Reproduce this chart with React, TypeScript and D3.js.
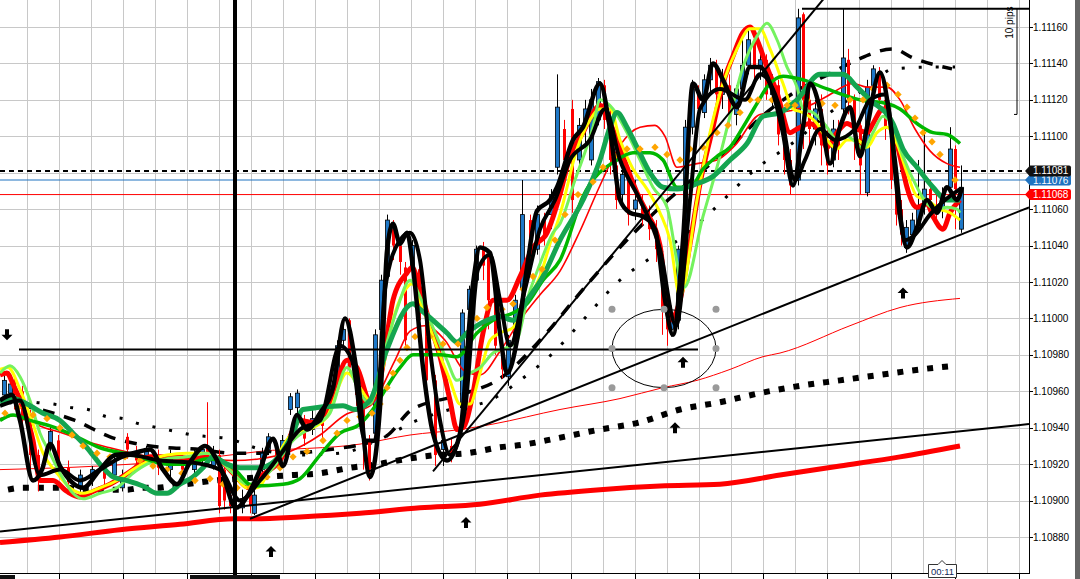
import React from "react";
import * as d3 from "d3";

// ---------- DATA (prices stored in pipettes: 110955 = 1.10955; time in minutes) ----------
const priceTickLabels = ["1.11160","1.11140","1.11120","1.11100","1.11080","1.11060","1.11040","1.11020","1.11000","1.10980","1.10960","1.10940","1.10920","1.10900","1.10880"];

// [time, open, high, low, close]
const candles: [number, number, number, number, number][] = [
[1,110958,110969,110955,110966],[2.5,110959,110967,110956,110964],[3.5,110966,110967,110950,110958],[5.5,110960,110963,110938,110944],
[7.5,110947,110950,110917,110925],[9.5,110925,110928,110905,110914],[12.5,110930,110941,110926,110938],[14.5,110933,110936,110914,110919],
[17,110918,110922,110905,110910],[20,110908,110917,110904,110914],[23,110912,110919,110908,110917],[26,110918,110921,110908,110912],
[28.5,110914,110926,110911,110922],[30.5,110907,110917,110905,110913],[31.75,110935,110937,110923,110928],[34,110926,110930,110919,110922],
[36.5,110922,110930,110919,110928],[39.5,110925,110928,110914,110918],[42.5,110917,110928,110912,110923],[45.5,110921,110925,110911,110917],
[48.5,110917,110928,110914,110923],[50.5,110922,110930,110919,110928],[51.75,110930,110954,110919,110922],[53.25,110919,110930,110917,110925],
[54.75,110925,110928,110893,110897],[56,110917,110919,110895,110900],[57.5,110903,110906,110893,110897],[60.5,110896,110906,110893,110901],
[62.5,110906,110908,110893,110897],[63.5,110893,110906,110892,110903],[65.5,110917,110929,110912,110926],[67,110928,110937,110925,110935],
[69,110930,110933,110918,110922],[70.5,110925,110936,110922,110933],[72.5,110950,110959,110947,110957],[74.25,110951,110961,110948,110959],
[76,110944,110947,110930,110934],[78,110939,110950,110936,110945],[80.5,110947,110950,110933,110941],[82.5,110955,110969,110952,110963],
[84.25,110969,110988,110966,110985],[85.75,110988,110999,110985,110994],[87.25,110999,111000,110969,110973],[89,110974,110977,110952,110958],
[90.75,110958,110961,110917,110933],[92.25,110933,110936,110911,110917],[93.75,110937,110994,110934,110991],[95.25,110994,111024,110991,111021],
[96.75,111023,111057,111021,111054],[98.25,111049,111054,111032,111040],[100,111040,111044,111024,111031],[101.25,111028,111031,110985,110988],
[103,111029,111043,111024,111040],[104.75,111027,111031,110994,110999],[106.5,110999,111002,110961,110966],[108.75,110966,110969,110919,110925],
[110.75,110928,110936,110919,110933],[112.75,110930,110934,110921,110925],[115.5,110951,111005,110947,111003],[117.25,111005,111018,111000,111016],
[119,111021,111040,111017,111038],[120.75,111038,111042,111021,111029],[122,111035,111038,110994,111010],[123.75,111010,111013,110980,110985],
[125.5,110983,110988,110967,110972],[127,110968,110991,110963,110988],[128.75,110988,111013,110985,111010],[130.5,111016,111076,111013,111057],
[132.5,111054,111057,111024,111035],[134.25,111038,111062,111035,111057],[136,111054,111058,111040,111046],[137.75,111057,111071,111049,111068],
[139.25,111083,111134,111079,111116],[141,111104,111109,111073,111087],[143,111115,111120,111058,111065],[144.75,111087,111110,111083,111106],
[146.25,111106,111120,111093,111115],[147.75,111087,111126,111084,111120],[149.5,111109,111132,111106,111130],[151,111128,111131,111104,111109],
[152.5,111109,111115,111079,111087],[154,111084,111090,111060,111065],[155.5,111068,111087,111062,111079],[157,111076,111082,111051,111057],
[158.75,111060,111076,111054,111065],[160.5,111062,111068,111051,111055],[162.25,111057,111062,111043,111049],[164,111049,111054,111031,111038],
[165.5,111035,111038,110991,111005],[166.75,111010,111016,110985,110994],[167.75,110994,111007,110990,111001],[169.5,110999,111040,110994,111038],
[171.25,111038,111109,111035,111105],[173,111105,111131,111101,111126],[174.5,111123,111128,111109,111115],[176,111113,111134,111110,111131],
[177.5,111131,111143,111123,111139],[179,111138,111142,111117,111123],[180.5,111123,111137,111115,111131],[182.25,111128,111134,111106,111112],
[184,111112,111128,111106,111126],[185.5,111126,111153,111120,111139],[187,111139,111159,111134,111153],[188.5,111153,111160,111131,111137],
[190,111137,111148,111131,111142],[191.5,111142,111145,111120,111123],[193,111123,111134,111115,111128],[194.5,111128,111131,111095,111101],
[196,111101,111106,111079,111087],[197.5,111087,111093,111068,111073],[199.5,111076,111170,111073,111165],[200.75,111167,111168,111093,111120],
[202.25,111120,111126,111095,111104],[203.75,111104,111120,111095,111115],[205.25,111115,111123,111084,111095],[206.75,111095,111104,111079,111084],
[208.25,111087,111109,111083,111104],[209.5,111104,111109,111087,111093],[210.75,111115,111170,111109,111143],[212,111142,111148,111112,111120],
[213.5,111120,111123,111087,111106],[215,111106,111112,111068,111084],[216.75,111069,111131,111067,111127],[218.25,111128,111139,111123,111137],
[219.75,111134,111138,111115,111120],[221.25,111120,111126,111098,111104],[222.75,111104,111109,111071,111076],[224,111076,111079,111051,111057],
[225.25,111060,111065,111040,111046],[226.5,111039,111054,111036,111050],[228,111046,111058,111043,111054],[229.5,111051,111087,111047,111060],
[231,111062,111104,111057,111071],[232.5,111071,111076,111057,111065],[234,111062,111068,111051,111057],[235.5,111060,111072,111055,111068],
[237.5,111072,111105,111071,111093],[238.75,111093,111095,111049,111071],[240.25,111049,111084,111047,111072]
];

const black1: [number, number][] = [[0,110955],[3,110958],[5,110944],[8.25,110911],[10.5,110917],[12.5,110931],[15,110919],[18,110910],[20.75,110907],[25,110917],[28.75,110925],[33.25,110926],[37.5,110928],[40.75,110917],[44.25,110909],[47.5,110921],[51.25,110930],[55,110919],[59,110896],[62,110903],[65,110917],[68.25,110934],[70.75,110919],[74.25,110947],[76.75,110939],[80,110948],[83.25,110962],[86.25,111000],[89.25,110970],[92.5,110913],[95,110951],[96.75,111037],[98.25,111052],[100,111041],[101.75,111047],[103.25,111028],[105.75,110973],[108.25,110937],[111.75,110922],[115,110937],[118.25,111019],[120,111039],[122.5,111036],[125,110992],[126.75,110970],[129.25,110988],[131.75,111028],[134.25,111059],[137.5,111065],[139.25,111072],[143.25,111098],[145.75,111105],[150,111129],[152.5,111104],[155,111065],[157.5,111058],[160.75,111056],[163.75,111049],[166.25,111010],[168.25,110991],[170.75,111043],[173.25,111129],[175.75,111120],[178.25,111140],[180.75,111131],[184.25,111116],[187.5,111138],[190,111138],[192.5,111129],[195.75,111102],[198.25,111073],[200.75,111105],[202.5,111129],[205,111115],[207.5,111085],[210,111105],[212.5,111116],[215,111089],[216.75,111105],[220,111135],[222.5,111109],[225,111056],[226.75,111039],[229.25,111050],[231.75,111065],[234.25,111058],[236.75,111072],[239.25,111065],[240.5,111072]];

const black2: [number, number][] = [[0,110952],[5,110955],[10,110914],[15,110917],[20,110911],[25,110917],[32.5,110925],[40,110922],[47.5,110921],[55,110917],[60,110900],[65,110911],[70,110925],[75,110939],[80,110944],[85,110985],[88,110977],[91.25,110933],[93.75,110933],[96.25,111016],[100,111043],[102.5,111047],[105,111032],[107.5,110983],[110,110944],[112.5,110925],[116.25,110950],[119.5,111027],[122.5,111035],[125,111010],[127.5,110985],[131.25,111016],[135,111049],[138.75,111065],[142.5,111087],[147.5,111098],[151.25,111115],[155,111087],[160,111065],[165,111038],[169,110996],[172.5,111065],[175,111115],[180,111126],[186.25,111120],[190,111134],[195,111115],[198.75,111076],[201.25,111087],[205,111104],[208.75,111098],[213.75,111104],[217.5,111120],[221.25,111123],[223.75,111087],[226.25,111043],[228.75,111046],[232.5,111057],[236.25,111065],[240,111071]];

const redFast: [number, number][] = [[0,110969],[1.75,110970],[3.25,110964],[5.75,110951],[8.25,110933],[10,110911],[13.25,110911],[16.75,110905],[20,110902],[23.25,110905],[27.5,110909],[33.25,110917],[37.5,110924],[43.25,110924],[48.25,110923],[51.75,110924],[55,110922],[58.25,110915],[62.5,110907],[65,110913],[70,110922],[75,110944],[78.25,110943],[81.75,110948],[86.75,110977],[89.25,110973],[92.5,110955],[95,110966],[98.25,111010],[101.75,111025],[103,111028],[105,111016],[107.5,110997],[110,110979],[112.5,110955],[114.25,110939],[115.75,110940],[118.25,110959],[120.75,110992],[123.25,111010],[126.75,111010],[130,111023],[133.25,111039],[136.75,111047],[140,111068],[142.5,111089],[145.75,111102],[148.25,111113],[150,111117],[151.75,111111],[154.25,111098],[156.75,111083],[159.25,111069],[161.75,111058],[165,111040],[167.5,110999],[170,111010],[172.5,111041],[175,111074],[178.25,111105],[180.75,111129],[183.25,111144],[185.75,111157],[187.5,111160],[189.25,111153],[191.75,111138],[194.25,111124],[197.5,111102],[199.25,111104],[202.5,111107],[205,111102],[206.75,111094],[209.25,111102],[211.75,111107],[214.25,111104],[216.75,111102],[218.25,111107],[220.75,111115],[223.25,111105],[225,111089],[226.75,111072],[229.25,111061],[231.75,111063],[233.25,111056],[235.75,111049],[237.5,111058],[240,111065]];

const yellowMA: [number, number][] = [[0,110972],[2,110973],[5,110961],[8.25,110942],[10.75,110926],[14.25,110915],[17.5,110907],[20.75,110904],[25,110907],[29.25,110911],[33.25,110917],[37.5,110922],[41.75,110925],[46.75,110926],[51.75,110926],[55,110922],[58.25,110915],[61.75,110907],[64.25,110907],[67.5,110917],[73.25,110937],[78.25,110940],[81.75,110946],[86.75,110970],[90,110962],[92.5,110955],[95.75,110973],[98.25,110999],[101.75,111017],[103,111019],[105.75,111005],[109.25,110984],[112.5,110966],[115,110953],[117.5,110953],[120,110970],[122.5,110988],[125,110992],[128.25,110995],[131.75,111010],[135,111023],[137.5,111041],[140,111057],[144.25,111093],[147.5,111109],[150,111115],[152.5,111115],[155,111098],[158.25,111082],[161.75,111071],[165,111058],[167.5,111043],[170,111012],[174.25,111065],[177.5,111102],[180.75,111129],[184.25,111148],[187.5,111159],[190,111159],[192.5,111148],[195.75,111129],[198.25,111115],[200.75,111113],[204.25,111107],[206.75,111098],[209.25,111093],[211.75,111098],[214.25,111098],[216.75,111094],[219.25,111102],[221.75,111105],[224.25,111096],[226.75,111080],[229.25,111067],[231.75,111065],[235,111060],[237.5,111058],[240,111054]];

const limeMA: [number, number][] = [[0,110970],[2.5,110974],[5,110968],[7.5,110955],[10,110937],[12.5,110926],[15,110915],[18.25,110904],[20.75,110901],[25,110904],[29.25,110907],[33.25,110915],[36.75,110920],[41.75,110923],[46.75,110924],[51.75,110926],[55,110922],[58.25,110915],[61.75,110909],[65,110911],[68.25,110918],[73.25,110933],[79.25,110942],[82.5,110948],[86.75,110973],[90,110959],[92.5,110953],[95.75,110979],[99.25,111005],[102.5,111021],[105,111012],[108.25,110995],[111.75,110977],[114.25,110966],[117.5,110970],[120,110973],[123.25,110981],[126.75,110984],[129.25,110988],[131.75,111010],[135,111030],[138.25,111047],[140,111052],[143.75,111076],[148.25,111105],[150,111120],[153.25,111115],[156.75,111102],[160,111087],[163.25,111072],[166.75,111061],[171,111017],[175.75,111056],[179.25,111083],[182.5,111111],[185.75,111138],[189.25,111155],[191.75,111162],[194.25,111153],[196.75,111138],[199.25,111127],[200.75,111115],[203.25,111113],[206.75,111105],[209.25,111098],[211.75,111100],[214.25,111096],[215.75,111093],[218.25,111102],[220.75,111111],[223.25,111105],[225.75,111089],[229.25,111072],[231.75,111063],[234.25,111060],[236.75,111061],[239.25,111060],[240,111058]];

const greenMA: [number, number][] = [[0,110944],[3.25,110947],[7.5,110944],[12.5,110941],[18.25,110936],[25,110929],[33.25,110925],[41.75,110920],[46.75,110920],[51.75,110923],[58.25,110918],[63.25,110908],[70.75,110909],[75,110912],[80,110925],[85,110937],[90,110942],[92.5,110948],[100,110973],[103.25,110980],[110,110980],[114.25,110979],[119.25,110992],[123.25,110999],[128.25,111003],[131.75,111008],[135.75,111021],[140,111032],[145.75,111067],[154.25,111087],[158.25,111091],[162.5,111091],[165.75,111087],[169.25,111072],[172.5,111072],[175.75,111082],[179.25,111089],[182.5,111094],[185.75,111105],[189.25,111118],[191.75,111127],[195.75,111133],[200.75,111131],[206.75,111126],[215,111120],[221.75,111118],[225,111115],[229.25,111107],[233.25,111102],[236.75,111101],[240,111096]];

const darkGreenMA: [number, number][] = [[0,110954],[3.25,110956],[6.75,110953],[10.75,110948],[15,110944],[18.25,110937],[21.75,110929],[25,110920],[28.25,110913],[31.75,110911],[35.75,110908],[39.25,110904],[41.75,110904],[45,110909],[48.25,110913],[50.75,110918],[53.25,110924],[56.75,110920],[60,110918],[65,110918],[70,110925],[73.25,110937],[75.75,110950],[85.75,110952],[88.75,110950],[92.5,110955],[96.75,110983],[103.25,111008],[105,111005],[111.75,110992],[114.25,110987],[116.75,110992],[121.75,110999],[125,111001],[128.25,110999],[131.75,111010],[135.75,111023],[140,111043],[145.75,111065],[150,111087],[152.5,111105],[154.25,111113],[156.75,111105],[159.25,111094],[162.5,111080],[165.75,111072],[169.25,111071],[174.25,111074],[178.25,111078],[182.5,111087],[186.75,111096],[190.75,111111],[195,111113],[199.25,111120],[205,111134],[210.75,111134],[214.25,111127],[217.5,111120],[223.25,111107],[225.75,111093],[229.25,111083],[233.25,111072],[236.75,111065],[240,111065]];

const redThinMA: [number, number][] = [[0,110945],[5,110947],[10,110941],[15.75,110937],[20.75,110933],[27.5,110929],[35,110925],[42.5,110923],[50,110923],[58.5,110922],[65,110923],[72.5,110927],[80,110936],[86.25,110947],[92.5,110952],[98.75,110977],[102.5,110993],[106.25,110996],[111.25,110988],[116.25,110971],[120,110969],[125,110982],[130,110999],[135,111013],[140,111026],[145,111048],[150,111073],[155,111095],[160,111105],[163.75,111106],[166.25,111100],[169.25,111083],[174.25,111085],[179.25,111087],[183.75,111095],[190,111112],[197.5,111114],[202.5,111117],[206.75,111122],[213.25,111129],[216.75,111127],[221.75,111127],[225,111120],[228.75,111104],[232.5,111092],[236.75,111085],[240,111083]];

const redSlowThin: [number, number][] = [[0,110917],[25,110919],[50,110923],[65,110927],[90,110931],[102.5,110936],[115,110939],[123.25,110942],[140,110950],[155,110956],[165.75,110962],[174.25,110966],[182.5,110972],[190.75,110979],[195,110981],[212.5,110996],[225,111006],[240,111011]];

const redSlowThick: [number, number][] = [[0,110877],[15,110880],[30,110884],[45,110887],[58.5,110890],[62.5,110890],[75,110891],[90,110893],[105,110896],[120,110898],[135,110903],[150,110906],[165,110908],[180,110909],[195,110914],[210,110919],[225,110924],[240,110930]];

const dotSmall: [number, number][] = [[5,110956],[8.75,110954],[13.25,110953],[18,110951],[22,110950],[26.75,110946],[30.75,110945],[35,110942],[39.5,110940],[43.75,110938],[48.25,110936],[52.5,110935],[57,110934],[61.25,110931],[63.75,110929],[75,110925],[85,110926],[96.25,110935],[103.25,110943],[112.5,110950],[122.5,110955],[130,110966],[138.25,110981],[145.75,110999],[155,111021],[162.5,111033],[172,111047],[177.5,111058],[189.5,111083],[198,111096],[207.5,111113],[217.5,111128],[223.25,111137],[232.5,111138],[238.75,111138]];

const dashMA: [number, number][] = [[0,110955],[10,110950],[18.75,110944],[27.5,110935],[37.5,110930],[50,110928],[58.5,110926],[70,110926],[82.5,110928],[96.25,110935],[103,110950],[115,110958],[125,110967],[135,110988],[145,111014],[155,111039],[165,111061],[175,111080],[182.5,111094],[190,111110],[200,111126],[208,111135],[214.25,111142],[223.25,111148],[228.25,111143],[238,111137]];

const squareMA: [number, number][] = [[2,110906],[5.5,110907],[9.25,110907],[13,110907],[16.75,110907],[20.5,110906],[24.25,110906],[28,110906],[31.75,110906],[35.5,110907],[39.25,110907],[43,110908],[46.75,110909],[50,110910],[53.75,110911],[60,110912],[66.25,110913],[73,110914],[80,110915],[87.5,110918],[94.5,110920],[102,110923],[109.25,110925],[116.75,110926],[124.25,110929],[131.75,110931],[138.75,110934],[150,110939],[160,110943],[170,110950],[180,110954],[190,110959],[200,110963],[210,110966],[220,110969],[230,110972],[238.75,110974]];

const orangeDots: [number, number][] = [[1.25,110948],[4.5,110951],[8.25,110947],[11.75,110945],[15,110940],[18,110936],[20.75,110930],[24.25,110926],[27.5,110924],[31.25,110924],[35,110922],[38.25,110919],[41.75,110917],[45.5,110915],[48.75,110911],[52.5,110912],[55.75,110909],[59.25,110907],[62.5,110907],[66.75,110913],[70,110918],[73.25,110924],[76.75,110927],[80.75,110933],[84.25,110937],[86.75,110944],[90,110946],[93,110948],[95,110953],[96.75,110962],[98.25,110970],[100,110977],[101.75,110984],[103.75,110990],[107.5,110990],[110.75,110986],[114.5,110986],[117.5,110992],[119.25,111000],[121.75,111006],[125.5,111005],[128.25,111008],[130.75,111016],[133.25,111023],[135.5,111027],[138.75,111043],[141.25,111057],[144.5,111068],[148.25,111075],[150.75,111083],[153.75,111089],[156.75,111093],[160,111093],[163.75,111094],[166.75,111090],[170,111087],[172.5,111093],[175.75,111094],[179.25,111102],[182,111106],[185,111113],[187.5,111120],[189.5,111120],[193,111120],[196.75,111117],[198.75,111117],[201.75,111120],[205.5,111118],[208.75,111117],[212.5,111120],[215.75,111120],[218.25,111126],[221.75,111128],[224.5,111123],[226.75,111116],[228.75,111110],[230.75,111102],[233,111097],[235,111090],[238.75,111076]];

// drawn objects: [t1, p1, t2, p2]
const trendLines: [number, number, number, number][] = [[0,110883,257.25,110942],[62.5,110890,257.25,111061],[108.25,110916,208,111181]];
const supportLine: [number, number, number] = [4.75, 174.5, 110983];
const rulerTop: [number, number, number] = [200.5, 257.25, 111170];
const rulerSide: [number, number, number] = [254.25, 111170, 111112];
const crosshairTime = 58.75;
const ellipseBox: [number, number, number, number] = [153, 111005, 179, 110962];
const arrowsUp: [number, number][] = [[67.75,110872],[116.5,110888],[168.75,110940],[170.75,110976],[225.75,111014]];
const arrowsDown: [number, number][] = [[1.75,110991]];
const priceMarkers: { p: number; label: string; color: string; line: string }[] = [
  { p: 111076, label: "1.11076", color: "#1f73c0", line: "solid" },
  { p: 111081, label: "1.11081", color: "#111111", line: "dash" },
  { p: 111068, label: "1.11068", color: "#ff0000", line: "solid" },
];

// ---------- SCALES ----------
const PW = 1029, PB = 573;
const xS = d3.scaleLinear().domain([0, 257.25]).range([0, PW]);
const yS = d3.scaleLinear().domain([1.1088, 1.1116]).range([537, 27]);
const pr = (v: number) => v / 100000;
const X = (t: number) => xS(t);
const Y = (v: number) => yS(pr(v));

const mk = (data: [number, number][], curve: d3.CurveFactory = d3.curveMonotoneX) =>
  d3.line<[number, number]>().x((d) => X(d[0])).y((d) => Y(d[1])).curve(curve)(data) || "";

const FONT = "'Liberation Sans', Arial, sans-serif";

export default function App() {
  const gridT = d3.range(6.75, 257, 8);
  const timeTicks = d3.range(14.75, 257, 16);
  const priceVals = priceTickLabels.map((s) => Math.round(parseFloat(s) * 100000));

  const lines: { d: [number, number][]; c: string; w: number }[] = [
    { d: redThinMA, c: "#ff0000", w: 1.6 },
    { d: redFast, c: "#ff0000", w: 5 },
    { d: yellowMA, c: "#ffff00", w: 3 },
    { d: limeMA, c: "#74f25e", w: 3 },
    { d: greenMA, c: "#00b800", w: 3.5 },
    { d: darkGreenMA, c: "#14a550", w: 5 },
  ];

  const [eT1, eP1, eT2, eP2] = ellipseBox;
  const ecx = (X(eT1) + X(eT2)) / 2, ecy = (Y(eP1) + Y(eP2)) / 2;
  const erx = (X(eT2) - X(eT1)) / 2, ery = (Y(eP2) - Y(eP1)) / 2;
  const handles: [number, number][] = [];
  [X(eT1), ecx, X(eT2)].forEach((hx) => [Y(eP1), ecy, Y(eP2)].forEach((hy) => { if (!(hx === ecx && hy === ecy)) handles.push([hx, hy]); }));

  const upArrow = "M0,-5.5 L5.5,0 L2,0 L2,5.5 L-2,5.5 L-2,0 L-5.5,0 Z";
  const downArrow = "M0,5.5 L5.5,0 L2,0 L2,-5.5 L-2,-5.5 L-2,0 L-5.5,0 Z";

  return (
    <svg width={1080} height={579} style={{ position: "absolute", left: 0, top: 0, background: "#fff" }} xmlns="http://www.w3.org/2000/svg">
      <defs>
        <clipPath id="plotClip"><rect x={0} y={0} width={PW} height={PB} /></clipPath>
      </defs>
      <rect x={0} y={0} width={1080} height={579} fill="#fff" />
      <g clipPath="url(#plotClip)">
        {/* grid */}
        {gridT.map((t, i) => (
          <line key={"gx" + i} x1={Math.round(X(t)) + 0.5} x2={Math.round(X(t)) + 0.5} y1={0} y2={PB} stroke="#c8c8c8" strokeWidth={1} />
        ))}
        {priceVals.map((v, i) => (
          <line key={"gy" + i} x1={0} x2={PW} y1={Math.round(Y(v)) + 0.5} y2={Math.round(Y(v)) + 0.5} stroke="#c8c8c8" strokeWidth={1} />
        ))}

        {/* slow MAs */}
        <path d={mk(redSlowThick)} fill="none" stroke="#ff0000" strokeWidth={5} />
        <path d={mk(redSlowThin)} fill="none" stroke="#ff0000" strokeWidth={1} />

        {/* price lines */}
        {priceMarkers.map((m, i) => (
          <line key={"pl" + i} x1={0} x2={PW} y1={Y(m.p)} y2={Y(m.p)} stroke={m.color === "#111111" ? "#000" : m.color}
            strokeWidth={m.line === "dash" ? 2 : 1} strokeDasharray={m.line === "dash" ? "5,4" : undefined} />
        ))}

        {/* dotted / dashed MAs */}
        <path d={mk(squareMA)} fill="none" stroke="#000" strokeWidth={6} strokeDasharray="6,9" />
        <path d={mk(dotSmall)} fill="none" stroke="#000" strokeWidth={3} strokeDasharray="3,14" />
        <path d={mk(dashMA)} fill="none" stroke="#000" strokeWidth={3.5} strokeDasharray="12,10" />

        {/* candles */}
        {candles.map(([t, o, h, l, c], i) => {
          const up = c >= o;
          const cx = Math.round(X(t)) + 0.5;
          const yT = Y(Math.max(o, c)), yB = Y(Math.min(o, c));
          return (
            <g key={"c" + i}>
              <line x1={cx} x2={cx} y1={Y(h)} y2={Y(l)} stroke={up ? "#000" : "#ff0000"} strokeWidth={1} />
              <rect x={cx - (up ? 2 : 1.5)} y={yT} width={up ? 4 : 3} height={Math.max(1, yB - yT)}
                fill={up ? "#1e78c8" : "#ff0000"} stroke={up ? "#000" : "none"} strokeWidth={up ? 0.8 : 0} />
            </g>
          );
        })}

        {/* moving averages */}
        {lines.map((ln, i) => (
          <path key={"ma" + i} d={mk(ln.d)} fill="none" stroke={ln.c} strokeWidth={ln.w} strokeLinejoin="round" />
        ))}
        {orangeDots.map(([t, v], i) => (
          <rect key={"od" + i} x={-2.6} y={-2.6} width={5.2} height={5.2} fill="#ffa500" transform={`translate(${X(t)},${Y(v)}) rotate(45)`} />
        ))}
        <path d={mk(black2)} fill="none" stroke="#000" strokeWidth={4} strokeLinejoin="round" />
        <path d={mk(black1)} fill="none" stroke="#000" strokeWidth={4.5} strokeLinejoin="round" />

        {/* objects */}
        {trendLines.map(([t1, p1, t2, p2], i) => (
          <line key={"tl" + i} x1={X(t1)} y1={Y(p1)} x2={X(t2)} y2={Y(p2)} stroke="#000" strokeWidth={2} />
        ))}
        <line x1={X(supportLine[0])} x2={X(supportLine[1])} y1={Y(supportLine[2])} y2={Y(supportLine[2])} stroke="#000" strokeWidth={2} />
        <line x1={X(rulerTop[0])} x2={X(rulerTop[1])} y1={Y(rulerTop[2])} y2={Y(rulerTop[2])} stroke="#000" strokeWidth={2} />
        <line x1={X(rulerSide[0])} x2={X(rulerSide[0])} y1={Y(rulerSide[1])} y2={Y(rulerSide[2])} stroke="#000" strokeWidth={1} />
        <line x1={X(rulerSide[0]) - 3} x2={X(rulerSide[0])} y1={Y(rulerSide[2])} y2={Y(rulerSide[2])} stroke="#000" strokeWidth={1} />
        <text transform={`translate(${X(rulerSide[0]) - 4},${Y(rulerSide[1]) + 30}) rotate(-90)`} fontFamily={FONT} fontSize={10} fill="#000">10 pips</text>

        <ellipse cx={ecx} cy={ecy} rx={erx} ry={ery} fill="none" stroke="#000" strokeWidth={1} />
        {handles.map(([hx, hy], i) => (
          <circle key={"h" + i} cx={hx} cy={hy} r={3.5} fill="#9a9a9a" />
        ))}
        {arrowsUp.map(([t, v], i) => (
          <path key={"au" + i} d={upArrow} transform={`translate(${X(t)},${Y(v)})`} fill="#000" />
        ))}
        {arrowsDown.map(([t, v], i) => (
          <path key={"ad" + i} d={downArrow} transform={`translate(${X(t)},${Y(v)})`} fill="#000" />
        ))}
      </g>

      {/* crosshair */}
      <line x1={X(crosshairTime)} x2={X(crosshairTime)} y1={0} y2={579} stroke="#000" strokeWidth={4} />

      {/* axes */}
      <line x1={PW + 0.5} x2={PW + 0.5} y1={0} y2={PB + 1} stroke="#000" strokeWidth={1} />
      <line x1={0} x2={PW + 1} y1={PB + 0.5} y2={PB + 0.5} stroke="#000" strokeWidth={1} />
      {timeTicks.map((t, i) => (
        <line key={"tt" + i} x1={Math.round(X(t)) + 0.5} x2={Math.round(X(t)) + 0.5} y1={PB} y2={579} stroke="#000" strokeWidth={1} />
      ))}
      {priceVals.map((v, i) => (
        <g key={"pt" + i}>
          <line x1={PW} x2={PW + 4} y1={Math.round(Y(v)) + 0.5} y2={Math.round(Y(v)) + 0.5} stroke="#000" strokeWidth={1} />
          <text x={PW + 4} y={Y(v) + 3.6} fontFamily={FONT} fontSize={10} fill="#000">{priceTickLabels[i]}</text>
        </g>
      ))}
      {priceMarkers.map((m, i) => {
        const yy = Y(m.p);
        return (
          <g key={"pm" + i}>
            <path d={`M${PW - 4},${yy} L${PW + 1},${yy - 5.5} L${PW + 40},${yy - 5.5} Q${PW + 42},${yy - 5.5} ${PW + 42},${yy - 3.5} L${PW + 42},${yy + 3.5} Q${PW + 42},${yy + 5.5} ${PW + 40},${yy + 5.5} L${PW + 1},${yy + 5.5} Z`} fill={m.color} />
            <text x={PW + 4} y={yy + 3.6} fontFamily={FONT} fontSize={10} fill="#fff">{m.label}</text>
          </g>
        );
      })}

      {/* time labels (mostly cut off) */}
      <rect x={0} y={575} width={15} height={4} fill="#111" />
      <rect x={190} y={575} width={90} height={4} fill="#111" />
      <path d="M928.5,564.5 L938,564.5 L942,560.5 L946,564.5 L956.5,564.5 L956.5,577.5 L928.5,577.5 Z" fill="#fff" stroke="#333" strokeWidth={1} />
      <text x={942.5} y={575} textAnchor="middle" fontFamily={FONT} fontSize={9.5} fill="#10285a">00:11</text>

      <rect x={1075} y={0} width={5} height={579} fill="#646464" />
    </svg>
  );
}
